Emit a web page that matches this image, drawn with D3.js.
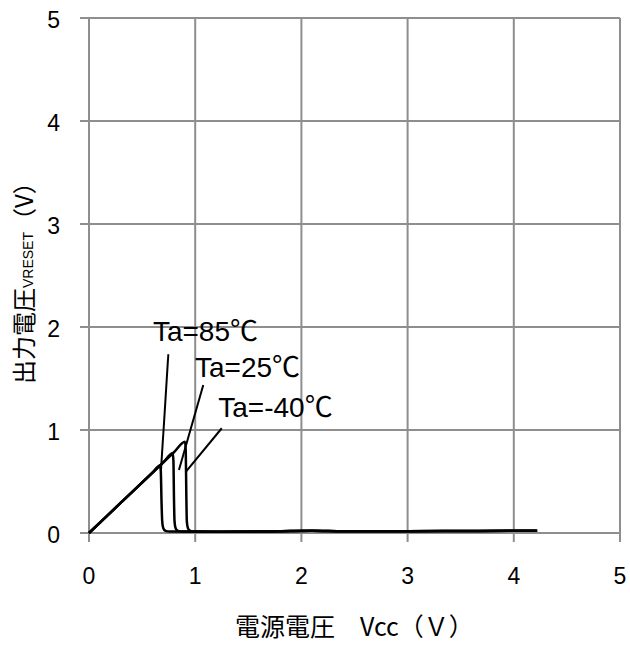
<!DOCTYPE html>
<html>
<head>
<meta charset="utf-8">
<script src="https://cdn.jsdelivr.net/npm/d3@7"></script>
<style>
  html, body { margin: 0; padding: 0; background: #fff; }
  svg { display: block; }
</style>
</head>
<body>
<svg id="chart" width="630" height="646"></svg>
<script>
// Output voltage VRESET versus supply voltage Vcc at three ambient temperatures.

// Axis ticks
const xTicks = [0, 1, 2, 3, 4, 5];
const yTicks = [0, 1, 2, 3, 4, 5];

// Ta = 85 °C: rise with Vcc, sharp drop near 0.69 V
const vcc85 = [0, 0.30, 0.60, 0.668, 0.676, 0.683, 0.689, 0.696, 0.708, 0.728, 0.76];
const out85 = [0, 0.294, 0.588, 0.655, 0.600, 0.300, 0.120, 0.060, 0.030, 0.018, 0.014];

// Ta = 25 °C: drop near 0.80 V
const vcc25 = [0, 0.30, 0.70, 0.788, 0.795, 0.800, 0.805, 0.812, 0.824, 0.845, 0.88];
const out25 = [0, 0.294, 0.686, 0.774, 0.700, 0.350, 0.120, 0.060, 0.030, 0.018, 0.014];

// Ta = -40 °C: drop near 0.92 V
const vccM40 = [0, 0.30, 0.80, 0.904, 0.911, 0.916, 0.921, 0.928, 0.940, 0.962, 1.00];
const outM40 = [0, 0.294, 0.784, 0.886, 0.800, 0.400, 0.120, 0.060, 0.030, 0.018, 0.014];

// Common low-level tail after reset release
const tailVcc = [1.2, 1.6, 1.9, 2.1, 2.4, 3.0, 3.5, 4.0, 4.22];
const tailOut = [0.013, 0.014, 0.020, 0.022, 0.017, 0.017, 0.019, 0.021, 0.021];

// Temperature labels and their leader lines (in axis units)
const labelText = ["Ta=85℃", "Ta=25℃", "Ta=-40℃"];
const labelAt = [[0.602, 1.867], [0.998, 1.511], [1.217, 1.129]];
const leaderFrom = [[0.747, 1.735], [1.076, 1.437], [1.250, 1.017]];
const leaderTo = [[0.678, 0.612], [0.847, 0.612], [0.913, 0.595]];

const svg = d3.select("#chart");
const plotLeft = 89, plotRight = 620, plotTop = 18, plotBottom = 533;

const x = d3.scaleLinear().domain([0, 5]).range([plotLeft, plotRight]);
const y = d3.scaleLinear().domain([0, 5]).range([plotBottom, plotTop]);

const gridColor = "#8e8e8e";
const tickFont = "'Liberation Sans', Arial, sans-serif";

// Grid lines (they also form the axes and ticks)
svg.append("g").selectAll("line").data(xTicks).join("line")
  .attr("x1", d => x(d)).attr("x2", d => x(d))
  .attr("y1", plotTop).attr("y2", plotBottom + 9)
  .attr("stroke", gridColor).attr("stroke-width", 2);
svg.append("g").selectAll("line").data(yTicks).join("line")
  .attr("y1", d => y(d)).attr("y2", d => y(d))
  .attr("x1", plotLeft - 9).attr("x2", plotRight)
  .attr("stroke", gridColor).attr("stroke-width", 2);

// Tick labels
svg.append("g").selectAll("text").data(xTicks).join("text")
  .attr("x", d => x(d)).attr("y", plotBottom + 51)
  .attr("text-anchor", "middle")
  .attr("font-family", tickFont).attr("font-size", 23)
  .attr("fill", "#000").text(d => d);
svg.append("g").selectAll("text").data(yTicks).join("text")
  .attr("x", plotLeft - 29).attr("y", d => y(d) + 10)
  .attr("text-anchor", "end")
  .attr("font-family", tickFont).attr("font-size", 23)
  .attr("fill", "#000").text(d => d);

// Curves
const line = d3.line()
  .x(d => x(d[0])).y(d => y(d[1]))
  .curve(d3.curveMonotoneX);

const seriesList = [
  [vcc85, out85],
  [vcc25, out25],
  [vccM40, outM40]
];
const tail = tailVcc.map((v, i) => [v, tailOut[i]]);

svg.append("g").selectAll("path").data(seriesList).join("path")
  .attr("d", s => line(s[0].map((v, i) => [v, s[1][i]]).concat(tail)))
  .attr("fill", "none")
  .attr("stroke", "#000")
  .attr("stroke-width", 2.5)
  .attr("stroke-linejoin", "round");

// Leader lines
svg.append("g").selectAll("line").data(leaderFrom).join("line")
  .attr("x1", d => x(d[0])).attr("y1", d => y(d[1]))
  .attr("x2", (d, i) => x(leaderTo[i][0])).attr("y2", (d, i) => y(leaderTo[i][1]))
  .attr("stroke", "#000").attr("stroke-width", 2);

// Temperature labels
svg.append("g").selectAll("text").data(labelText).join("text")
  .attr("x", (d, i) => x(labelAt[i][0])).attr("y", (d, i) => y(labelAt[i][1]))
  .attr("font-family", "'Liberation Sans', 'Noto Sans CJK JP', sans-serif")
  .attr("font-size", 28)
  .attr("fill", "#000").text(d => d);

// Axis titles
const cjk = "'Noto Sans CJK JP', sans-serif";
svg.append("text")
  .attr("x", 235).attr("y", 636)
  .attr("font-family", cjk).attr("font-size", 25).attr("fill", "#000")
  .text("電源電圧　Vcc（Ｖ）");

const yTitle = svg.append("text")
  .attr("transform", "translate(33,384) rotate(-90)")
  .attr("font-family", cjk).attr("font-size", 24).attr("fill", "#000");
yTitle.append("tspan").text("出力電圧");
yTitle.append("tspan").attr("font-family", tickFont).attr("font-size", 14).text("VRESET");
yTitle.append("tspan").text("（V）");
</script>
</body>
</html>
